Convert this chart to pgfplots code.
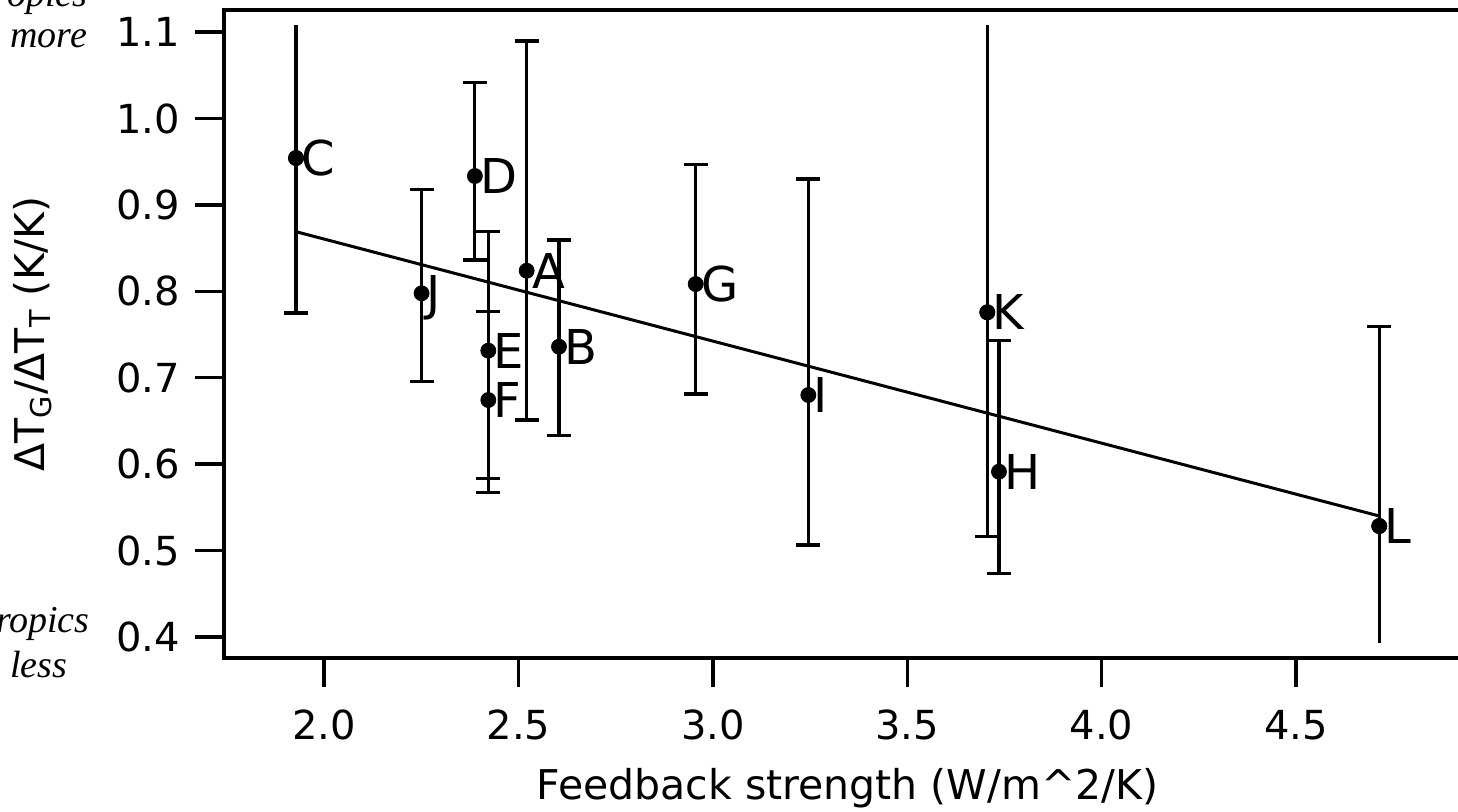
\documentclass[border=0pt]{standalone}
\usepackage{pgfplots}
\pgfplotsset{compat=1.18}
\usepackage{pgfplotstable}
\usepackage{fontspec}
\setmainfont{DejaVu Sans}
\newfontfamily\serifit{Liberation Serif}

\pgfplotstableread{
x y ep em lab
2.5213 0.8238 0.2658 0.1727 A
2.6044 0.7359 0.1234 0.1030 B
2.3880 0.9334 0.1084 0.0972 D
2.4226 0.7313 0.1377 0.1643 E
2.4226 0.6742 0.1022 0.0906 F
2.9560 0.8084 0.1385 0.1272 G
3.7360 0.5913 0.1516 0.1176 H
3.2457 0.6800 0.2499 0.1736 I
2.2510 0.7977 0.1203 0.1023 J
}\databoth

\pgfplotstableread{
x y ep em lab
1.9280 0.9542 0.1538 0.1792 C
3.7060 0.7757 0.3323 0.2597 K
}\dataCK

\pgfplotstableread{
x y ep em lab
4.7140 0.5284 0.2306 0.1357 L
}\dataL

\pgfplotstableread{
x y lab
2.5213 0.8238 A
2.6044 0.7359 B
1.9280 0.9542 C
2.3880 0.9334 D
2.4226 0.7313 E
2.4226 0.6742 F
2.9560 0.8084 G
3.7360 0.5913 H
3.2457 0.6800 I
2.2510 0.7977 J
3.7060 0.7757 K
4.7140 0.5284 L
}\datalabels

\begin{document}
\begin{tikzpicture}
\useasboundingbox (0pt,0pt) rectangle (729pt,405.5pt);
\begin{scope}
\clip (0pt,0pt) rectangle (729pt,405.5pt);
\begin{axis}[
  at={(112pt,76.5pt)}, anchor=south west,
  scale only axis, width=623.5pt, height=324pt,
  xmin=1.7428, xmax=4.95, ymin=0.3757, ymax=1.1255,
  axis line style={line width=1.7pt, line cap=rect},
  tick align=outside, xtick pos=bottom, ytick pos=left,
  major tick length=14.5pt,
  every tick/.style={line width=1.7pt, black},
  xtick={2.0,2.5,3.0,3.5,4.0,4.5},
  ytick={0.4,0.5,0.6,0.7,0.8,0.9,1.0,1.1},
  /pgf/number format/assume math mode=true,
  /pgf/number format/.cd, fixed, fixed zerofill, precision=1, /pgfplots/.cd,
  ticklabel style={font=\fontsize{20}{20}\selectfont},
  xticklabel style={yshift=-8pt},
  yticklabel style={xshift=-4pt},
  xlabel={Feedback strength (W/m\textasciicircum2/K)},
  ylabel={ΔT\textsubscript{G}/ΔT\textsubscript{T} (K/K)},
  label style={font=\fontsize{20.5}{20.5}\selectfont},
  xlabel style={at={(axis description cs:0.5,0)}, anchor=north, yshift=-55pt, inner sep=0pt},
  ylabel style={at={(axis description cs:-0.138,0.5)}, anchor=south, inner sep=0pt},
  error bars/error bar style={line width=1.6pt, black},
  error bars/error mark options={rotate=90, line width=1.6pt, black, mark size=6pt},
]
\addplot[only marks, mark=*, mark size=3.75pt, black,
  error bars/.cd, y dir=both, y explicit]
  table[x=x, y=y, y error plus=ep, y error minus=em] {\databoth};
\addplot[only marks, mark=*, mark size=3.75pt, black,
  error bars/.cd, y dir=minus, y explicit]
  table[x=x, y=y, y error plus=ep, y error minus=em] {\dataCK};
\addplot[only marks, mark=*, mark size=3.75pt, black,
  error bars/.cd, y dir=plus, y explicit, error mark=none]
  table[x=x, y=y, y error plus=ep, y error minus=em] {\dataCK};
\addplot[only marks, mark=*, mark size=3.75pt, black,
  error bars/.cd, y dir=plus, y explicit]
  table[x=x, y=y, y error plus=ep, y error minus=em] {\dataL};
\addplot[only marks, mark=*, mark size=3.75pt, black,
  error bars/.cd, y dir=minus, y explicit, error mark=none]
  table[x=x, y=y, y error plus=ep, y error minus=em] {\dataL};
\addplot[black, line width=1.5pt, mark=none] coordinates {(1.928,0.869) (4.714,0.540)};
\addplot[only marks, mark=none, point meta=explicit symbolic,
  nodes near coords,
  nodes near coords style={anchor=base west, inner sep=0pt, xshift=2.5pt, yshift=-8.7pt,
    font=\fontsize{24}{24}\selectfont, text=black}]
  table[x=x, y=y, meta=lab] {\datalabels};
\end{axis}
\begin{scope}[every node/.style={inner sep=0pt, font=\serifit\itshape\fontsize{19}{19}\selectfont}]
\node[anchor=base east] at (44pt,402.5pt) {Tropics};
\node[anchor=base west] at (5pt,381.5pt) {more};
\node[anchor=base east] at (45pt,89.5pt) {Tropics};
\node[anchor=base west] at (5pt,67pt) {less};
\end{scope}
\end{scope}
\end{tikzpicture}
\end{document}
